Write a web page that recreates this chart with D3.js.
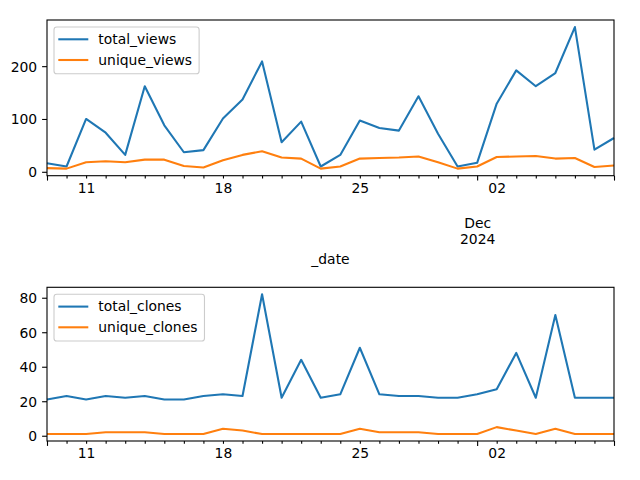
<!DOCTYPE html>
<html>
<head>
<meta charset="utf-8">
<script src="https://d3js.org/d3.v7.min.js"></script>
<style>
body { margin: 0; background: #fff; }
svg text { font-family: "DejaVu Sans", sans-serif; font-size: 13.9px; fill: #000; }
.axis path, .axis line { stroke: #000; stroke-width: 1.1px; }
</style>
</head>
<body>
<svg id="chart" width="640" height="480"></svg>
<script>
// daily values, 2024-11-09 .. 2024-12-08
var startDay = "2024-11-09";
var totalViews  = [16, 10, 100, 74, 32, 162, 88, 37, 41, 101, 137, 209, 56, 95, 10,
                   32, 97, 83, 78, 143, 72, 10, 17, 129, 192, 162, 187, 274, 42, 64];
var uniqueViews = [7, 6, 18, 20, 18, 23, 23, 11, 8, 22, 32, 39, 27, 25, 6,
                   10, 25, 26, 27, 29, 18, 6, 10, 28, 29, 30, 25, 26, 9, 12];
var totalClones  = [21, 23, 21, 23, 22, 23, 21, 21, 23, 24, 23, 82, 22, 44, 22,
                    24, 51, 24, 23, 23, 22, 22, 24, 27, 48, 22, 70, 22, 22, 22];
var uniqueClones = [1, 1, 1, 2, 2, 2, 1, 1, 1, 4, 3, 1, 1, 1, 1,
                    1, 4, 2, 2, 2, 1, 1, 1, 5, 3, 1, 4, 1, 1, 1];
var viewTicks  = [0, 100, 200];
var cloneTicks = [0, 20, 40, 60, 80];
var monthLabel = ["Dec", "2024"];

var t0 = new Date(startDay + "T00:00:00Z");
var dates = totalViews.map(function(d, i){ return d3.utcDay.offset(t0, i); });

var blue = "#1f77b4", orange = "#ff7f0e";
var svg = d3.select("#chart");
var left = 47, right = 614;

var x = d3.scaleUtc()
  .domain([dates[0], dates[dates.length - 1]])
  .range([left, right]);

function isMonday(d){ return d.getUTCDay() === 1; }
function isMonthStart(d){ return d.getUTCDate() === 1; }

function panel(top, bottom, s1, s2, names, yTicks, showLabel){
  var all = s1.concat(s2);
  var lo = d3.min(all), hi = d3.max(all), pad = (hi - lo) * 0.05;
  var y = d3.scaleLinear().domain([lo - pad, hi + pad]).range([bottom, top]);

  // x axis
  var xa = svg.append("g")
    .attr("class", "axis")
    .attr("transform", "translate(0," + bottom + ")")
    .call(d3.axisBottom(x)
      .tickValues(dates)
      .tickSizeOuter(0)
      .tickSizeInner(2.8)
      .tickPadding(3)
      .tickFormat(function(d){ return isMonday(d) ? d3.utcFormat("%d")(d) : ""; }));
  xa.select(".domain").remove();
  xa.selectAll(".tick line")
    .attr("y2", function(d, i){
      return (isMonthStart(d) || i === 0 || i === dates.length - 1) ? 4.9 : 2.8;
    });
  xa.selectAll(".tick text").attr("y", 17).attr("dy", null);
  if (showLabel) {
    xa.selectAll(".tick").filter(isMonthStart).select("text")
      .selectAll("tspan")
      .data(monthLabel)
      .enter().append("tspan")
      .attr("x", 0)
      .attr("y", function(d, i){ return 52.6 + i * 15.7; })
      .text(function(d){ return d; });
  }

  // y axis
  var ya = svg.append("g")
    .attr("class", "axis")
    .attr("transform", "translate(" + left + ",0)")
    .call(d3.axisLeft(y).tickValues(yTicks).tickSizeOuter(0).tickSize(4.9).tickPadding(4.9));
  ya.select(".domain").remove();
  ya.selectAll(".tick text").attr("dy", "0.35em");

  // lines
  var line = function(vals){
    return d3.line()
      .x(function(d, i){ return x(dates[i]); })
      .y(function(d){ return y(d); })(vals);
  };
  var plot = svg.append("g");
  plot.append("path").attr("d", line(s1))
    .attr("fill", "none").attr("stroke", blue).attr("stroke-width", 2.08)
    .attr("stroke-linejoin", "round");
  plot.append("path").attr("d", line(s2))
    .attr("fill", "none").attr("stroke", orange).attr("stroke-width", 2.08)
    .attr("stroke-linejoin", "round");

  // frame
  svg.append("rect")
    .attr("x", left).attr("y", top)
    .attr("width", right - left).attr("height", bottom - top)
    .attr("fill", "none").attr("stroke", "#000").attr("stroke-width", 1.1);

  // legend
  var lg = svg.append("g").attr("transform", "translate(" + left + "," + top + ")");
  var box = lg.append("rect")
    .attr("x", 7).attr("y", 7).attr("height", 46.7)
    .attr("rx", 2.8).attr("ry", 2.8)
    .attr("fill", "#fff").attr("fill-opacity", 0.8)
    .attr("stroke", "#cccccc").attr("stroke-width", 1.1);
  var maxW = 0;
  [blue, orange].forEach(function(c, i){
    var cy = 19.3 + i * 20.7;
    lg.append("line").attr("x1", 11.3).attr("x2", 41.3).attr("y1", cy).attr("y2", cy)
      .attr("stroke", c).attr("stroke-width", 2.08);
    var t = lg.append("text").attr("x", 51.3).attr("y", cy).attr("dy", "0.35em").text(names[i]);
    maxW = Math.max(maxW, t.node().getComputedTextLength());
  });
  box.attr("width", 51.3 + maxW + 7 - 7);

  if (showLabel) {
    svg.append("text")
      .attr("x", (left + right) / 2).attr("y", 264)
      .attr("text-anchor", "middle")
      .text("_date");
  }
}

panel(20, 175.7, totalViews, uniqueViews, ["total_views", "unique_views"], viewTicks, true);
panel(287.3, 441, totalClones, uniqueClones, ["total_clones", "unique_clones"], cloneTicks, false);
</script>
</body>
</html>
